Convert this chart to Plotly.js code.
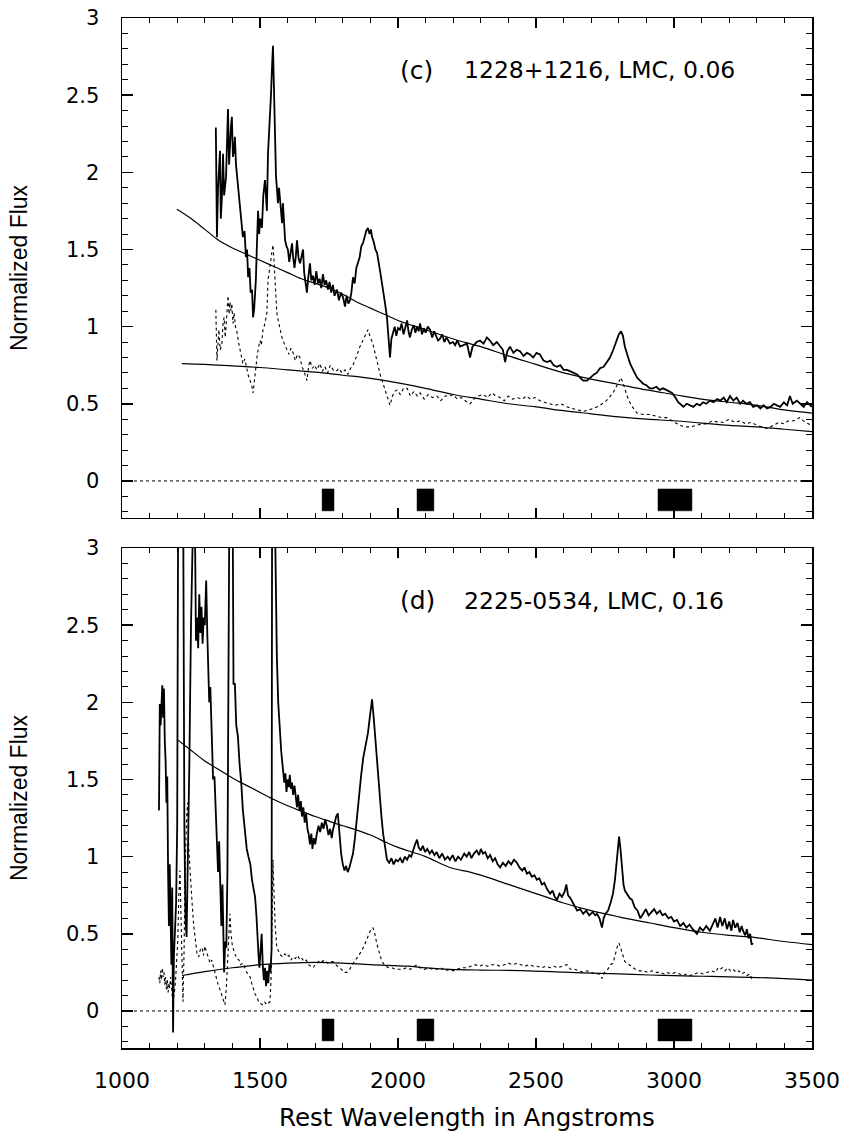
<!DOCTYPE html>
<html>
<head>
<meta charset="utf-8">
<script src="https://cdn.plot.ly/plotly-3.0.1.min.js"></script>
<style>html,body{margin:0;padding:0;background:#fff;}#chart{width:845px;height:1132px;}</style>
</head>
<body>
<div id="chart"></div>
<script>
// ---- Panel (c): 1228+1216 ----
const cLabel = "(c)";
const cName = "1228+1216, LMC, 0.06";
// observed spectrum [wavelength, flux]
const cObserved = [[1340,2.29],[1344,1.58],[1348,1.9],[1355,2.14],[1358,1.7],[1362,1.84],[1366,2.12],[1370,1.85],[1377,1.97],[1380,2.2],[1384,2.41],[1388,2.05],[1391,2.19],[1395,2.3],[1398,2.36],[1402,2.1],[1406,2.14],[1409,2.23],[1413,2.05],[1417,1.97],[1422,1.88],[1428,1.77],[1433,1.7],[1438,1.58],[1444,1.62],[1449,1.45],[1453,1.5],[1457,1.32],[1462,1.38],[1466,1.22],[1471,1.24],[1475,1.06],[1479,1.12],[1485,1.3],[1489,1.54],[1493,1.75],[1497,1.6],[1501,1.7],[1507,1.64],[1512,1.85],[1518,1.95],[1522,1.85],[1525,1.75],[1529,2.12],[1535,2.3],[1540,2.51],[1544,2.7],[1547,2.82],[1551,2.51],[1555,2.2],[1558,1.97],[1562,1.88],[1565,1.8],[1569,1.9],[1572,1.82],[1576,1.75],[1580,1.67],[1583,1.8],[1587,1.62],[1591,1.56],[1596,1.52],[1601,1.5],[1606,1.42],[1611,1.48],[1616,1.54],[1620,1.45],[1625,1.38],[1630,1.46],[1634,1.56],[1640,1.44],[1645,1.41],[1650,1.45],[1656,1.5],[1660,1.35],[1666,1.28],[1670,1.22],[1675,1.32],[1681,1.41],[1686,1.3],[1692,1.33],[1698,1.27],[1704,1.36],[1710,1.28],[1716,1.31],[1722,1.25],[1728,1.34],[1734,1.27],[1740,1.3],[1746,1.24],[1752,1.29],[1758,1.22],[1764,1.27],[1770,1.2],[1779,1.24],[1786,1.17],[1793,1.22],[1801,1.19],[1808,1.13],[1814,1.2],[1820,1.15],[1826,1.17],[1831,1.22],[1837,1.32],[1843,1.28],[1849,1.38],[1855,1.41],[1861,1.45],[1867,1.52],[1873,1.54],[1879,1.58],[1885,1.62],[1891,1.64],[1897,1.6],[1902,1.63],[1906,1.58],[1912,1.55],[1918,1.5],[1924,1.48],[1930,1.4],[1936,1.35],[1942,1.28],[1948,1.22],[1953,1.15],[1960,1.06],[1965,0.95],[1971,0.8],[1976,0.92],[1982,0.96],[1988,1.0],[1994,0.94],[2000,0.99],[2007,0.98],[2013,1.02],[2020,0.95],[2026,1.0],[2033,1.04],[2038,0.97],[2043,0.93],[2050,0.98],[2057,1.01],[2063,0.96],[2069,1.0],[2075,0.97],[2080,1.02],[2087,0.95],[2094,0.99],[2100,0.96],[2108,1.0],[2116,0.98],[2124,0.93],[2131,0.97],[2138,0.94],[2145,0.91],[2152,0.92],[2160,0.95],[2168,0.9],[2176,0.93],[2188,0.89],[2199,0.9],[2207,0.88],[2215,0.91],[2225,0.87],[2235,0.88],[2250,0.89],[2261,0.8],[2270,0.87],[2285,0.9],[2297,0.91],[2310,0.89],[2322,0.93],[2333,0.91],[2345,0.88],[2358,0.9],[2370,0.87],[2380,0.85],[2388,0.77],[2396,0.84],[2406,0.87],[2418,0.83],[2430,0.85],[2442,0.84],[2455,0.81],[2467,0.83],[2478,0.82],[2490,0.8],[2502,0.83],[2514,0.82],[2527,0.78],[2540,0.77],[2552,0.78],[2564,0.75],[2576,0.74],[2588,0.75],[2600,0.72],[2612,0.72],[2625,0.71],[2637,0.7],[2649,0.69],[2660,0.67],[2671,0.65],[2685,0.65],[2696,0.67],[2710,0.69],[2720,0.7],[2732,0.73],[2745,0.74],[2756,0.77],[2768,0.8],[2780,0.85],[2793,0.91],[2800,0.95],[2808,0.97],[2815,0.94],[2822,0.87],[2830,0.82],[2841,0.76],[2852,0.72],[2866,0.67],[2877,0.65],[2888,0.63],[2900,0.62],[2912,0.6],[2924,0.6],[2936,0.61],[2948,0.59],[2960,0.6],[2972,0.59],[2983,0.58],[2993,0.57],[3005,0.54],[3015,0.51],[3022,0.5],[3034,0.48],[3046,0.5],[3058,0.49],[3070,0.48],[3082,0.5],[3094,0.49],[3105,0.51],[3117,0.5],[3130,0.52],[3143,0.51],[3156,0.53],[3168,0.52],[3180,0.54],[3191,0.51],[3203,0.55],[3215,0.52],[3227,0.54],[3240,0.5],[3250,0.52],[3262,0.5],[3275,0.51],[3287,0.48],[3301,0.49],[3313,0.47],[3325,0.49],[3337,0.47],[3350,0.48],[3362,0.5],[3373,0.49],[3385,0.48],[3398,0.51],[3410,0.49],[3420,0.55],[3430,0.5],[3445,0.52],[3457,0.5],[3470,0.48],[3482,0.51],[3500,0.48]];
// dereddened / scaled spectrum (dotted)
const cScaled = [[1340,1.11],[1344,0.78],[1351,0.98],[1356,0.85],[1362,0.89],[1366,1.02],[1370,1.06],[1374,0.93],[1377,1.0],[1381,1.12],[1384,1.2],[1388,1.08],[1391,1.16],[1395,1.1],[1398,1.15],[1402,1.02],[1406,1.09],[1411,1.0],[1417,0.96],[1422,0.9],[1428,0.85],[1433,0.8],[1438,0.76],[1445,0.79],[1453,0.72],[1458,0.68],[1464,0.65],[1470,0.62],[1475,0.57],[1480,0.66],[1485,0.72],[1489,0.8],[1494,0.86],[1500,0.91],[1505,0.88],[1511,0.98],[1518,1.02],[1525,1.09],[1529,1.3],[1536,1.38],[1542,1.47],[1547,1.53],[1551,1.42],[1554,1.3],[1558,1.15],[1561,1.09],[1566,1.04],[1572,0.98],[1578,0.94],[1583,0.91],[1590,0.88],[1598,0.85],[1605,0.82],[1612,0.86],[1620,0.83],[1628,0.78],[1636,0.82],[1645,0.8],[1652,0.74],[1660,0.71],[1670,0.65],[1676,0.74],[1681,0.78],[1690,0.73],[1698,0.75],[1706,0.72],[1717,0.76],[1726,0.71],[1735,0.74],[1745,0.7],[1755,0.75],[1765,0.72],[1776,0.71],[1786,0.73],[1797,0.7],[1808,0.72],[1818,0.69],[1828,0.73],[1837,0.75],[1848,0.8],[1862,0.87],[1875,0.92],[1885,0.96],[1891,0.98],[1900,0.93],[1909,0.89],[1918,0.82],[1928,0.74],[1937,0.68],[1946,0.63],[1955,0.58],[1963,0.54],[1971,0.49],[1980,0.55],[1988,0.58],[1996,0.59],[2008,0.56],[2020,0.6],[2033,0.6],[2045,0.55],[2058,0.58],[2070,0.55],[2080,0.57],[2095,0.53],[2110,0.56],[2125,0.54],[2141,0.55],[2155,0.52],[2170,0.55],[2188,0.55],[2199,0.56],[2215,0.53],[2230,0.54],[2250,0.51],[2261,0.5],[2275,0.53],[2290,0.55],[2308,0.56],[2325,0.54],[2340,0.57],[2355,0.55],[2370,0.54],[2385,0.52],[2400,0.55],[2415,0.53],[2431,0.54],[2450,0.53],[2465,0.55],[2480,0.53],[2496,0.54],[2515,0.52],[2530,0.51],[2551,0.5],[2570,0.49],[2590,0.5],[2612,0.48],[2630,0.47],[2650,0.46],[2671,0.45],[2690,0.46],[2710,0.47],[2732,0.49],[2755,0.52],[2779,0.57],[2795,0.63],[2808,0.67],[2818,0.62],[2830,0.55],[2845,0.49],[2866,0.44],[2890,0.43],[2913,0.43],[2935,0.42],[2955,0.41],[2974,0.41],[3000,0.38],[3022,0.36],[3040,0.35],[3058,0.35],[3080,0.36],[3100,0.37],[3119,0.37],[3140,0.39],[3160,0.38],[3180,0.38],[3200,0.4],[3220,0.38],[3240,0.39],[3260,0.37],[3280,0.38],[3301,0.36],[3320,0.35],[3337,0.34],[3360,0.36],[3380,0.38],[3398,0.37],[3415,0.39],[3435,0.39],[3455,0.41],[3475,0.38],[3500,0.36]];
const cFitUpper = [[1199,1.76],[1250,1.7],[1300,1.63],[1350,1.56],[1400,1.51],[1450,1.47],[1500,1.43],[1550,1.39],[1600,1.35],[1650,1.31],[1700,1.28],[1750,1.25],[1800,1.21],[1850,1.16],[1900,1.12],[1950,1.08],[2000,1.04],[2100,0.98],[2200,0.92],[2300,0.87],[2400,0.81],[2500,0.755],[2600,0.7],[2700,0.66],[2800,0.625],[2900,0.59],[3000,0.56],[3100,0.53],[3200,0.51],[3300,0.49],[3400,0.46],[3500,0.44]];
const cFitLower = [[1217,0.76],[1300,0.755],[1400,0.745],[1500,0.735],[1600,0.72],[1700,0.705],[1800,0.685],[1900,0.665],[2000,0.635],[2100,0.6],[2200,0.56],[2300,0.53],[2400,0.5],[2500,0.48],[2600,0.455],[2700,0.435],[2800,0.415],[2900,0.4],[3000,0.39],[3100,0.375],[3200,0.36],[3300,0.35],[3400,0.335],[3500,0.32]];

// ---- Panel (d): 2225-0534 ----
const dLabel = "(d)";
const dName = "2225-0534, LMC, 0.16";
const dObserved = [[1134,1.3],[1137,1.99],[1140,1.85],[1143,2.05],[1146,2.11],[1149,1.9],[1152,2.09],[1155,1.75],[1158,1.62],[1161,1.35],[1164,1.52],[1167,0.9],[1170,0.55],[1173,0.95],[1176,0.62],[1179,0.3],[1182,0.8],[1185,-0.14],[1188,0.35],[1192,0.55],[1196,0.7],[1200,1.2],[1204,3.6],[1210,3.6],[1216,3.6],[1221,3.6],[1226,1.2],[1230,0.6],[1234,0.48],[1238,0.9],[1244,1.6],[1250,2.5],[1256,3.6],[1262,3.6],[1268,2.4],[1272,2.55],[1276,2.35],[1280,2.7],[1284,2.45],[1288,2.62],[1292,2.38],[1296,2.55],[1300,2.5],[1305,2.79],[1309,2.45],[1312,2.3],[1316,2.0],[1320,2.1],[1325,1.75],[1330,1.5],[1335,1.52],[1340,1.3],[1344,1.19],[1348,0.9],[1352,1.1],[1356,0.7],[1360,0.55],[1364,0.82],[1367,0.4],[1370,0.25],[1374,0.45],[1378,0.41],[1382,0.9],[1386,2.0],[1390,3.6],[1396,3.6],[1400,3.6],[1404,2.12],[1409,2.12],[1414,1.85],[1420,1.78],[1426,1.6],[1432,1.48],[1438,1.3],[1445,1.15],[1452,1.05],[1458,1.0],[1465,0.95],[1471,0.85],[1476,0.8],[1482,0.74],[1487,0.62],[1491,0.45],[1495,0.35],[1498,0.28],[1502,0.4],[1506,0.5],[1510,0.3],[1514,0.2],[1518,0.28],[1522,0.16],[1526,0.26],[1530,0.18],[1534,0.3],[1538,0.25],[1542,0.4],[1544,3.6],[1551,3.6],[1556,2.9],[1561,2.3],[1566,2.0],[1572,1.78],[1577,1.68],[1583,1.57],[1588,1.48],[1592,1.54],[1596,1.42],[1600,1.5],[1604,1.45],[1608,1.53],[1612,1.44],[1616,1.48],[1620,1.4],[1625,1.46],[1630,1.38],[1634,1.32],[1638,1.4],[1643,1.3],[1648,1.36],[1652,1.26],[1657,1.32],[1662,1.22],[1667,1.28],[1672,1.18],[1677,1.14],[1681,1.08],[1686,1.15],[1690,1.05],[1695,1.12],[1700,1.08],[1706,1.15],[1712,1.2],[1718,1.16],[1724,1.22],[1730,1.18],[1736,1.24],[1742,1.2],[1748,1.14],[1754,1.18],[1760,1.12],[1764,1.17],[1770,1.22],[1776,1.26],[1782,1.28],[1788,1.15],[1794,1.02],[1800,0.95],[1806,0.91],[1812,0.94],[1818,0.9],[1824,0.93],[1830,0.97],[1837,1.02],[1844,1.12],[1851,1.26],[1858,1.38],[1866,1.52],[1874,1.64],[1882,1.72],[1891,1.8],[1899,1.92],[1906,2.02],[1912,1.9],[1918,1.75],[1923,1.62],[1928,1.54],[1935,1.38],[1940,1.26],[1946,1.15],[1953,1.05],[1960,0.98],[1968,0.96],[1976,0.99],[1984,0.95],[1992,0.98],[2000,0.97],[2008,0.99],[2016,0.96],[2025,1.0],[2033,0.98],[2041,1.01],[2048,1.0],[2054,1.04],[2062,1.08],[2069,1.11],[2075,1.06],[2082,1.04],[2090,1.07],[2098,1.03],[2106,1.05],[2115,1.02],[2123,1.04],[2132,1.01],[2140,1.03],[2150,0.99],[2160,1.02],[2170,0.98],[2180,1.0],[2188,0.98],[2198,1.01],[2208,0.97],[2218,1.0],[2228,0.98],[2240,1.02],[2249,1.0],[2258,1.03],[2266,0.99],[2275,1.02],[2285,1.04],[2294,1.01],[2300,1.05],[2308,1.02],[2316,1.03],[2325,0.99],[2334,1.01],[2343,0.97],[2352,0.99],[2361,0.95],[2370,0.93],[2380,0.96],[2390,0.94],[2400,0.97],[2410,0.95],[2420,0.98],[2431,0.96],[2440,0.93],[2450,0.91],[2458,0.93],[2467,0.89],[2476,0.9],[2485,0.87],[2494,0.88],[2503,0.85],[2512,0.86],[2521,0.82],[2530,0.83],[2540,0.79],[2551,0.76],[2560,0.78],[2568,0.74],[2576,0.72],[2585,0.76],[2594,0.74],[2603,0.77],[2610,0.82],[2616,0.75],[2625,0.73],[2635,0.7],[2649,0.65],[2660,0.66],[2671,0.63],[2682,0.65],[2693,0.62],[2705,0.64],[2715,0.62],[2721,0.63],[2730,0.6],[2739,0.54],[2745,0.6],[2752,0.63],[2761,0.65],[2770,0.7],[2779,0.76],[2786,0.85],[2792,0.96],[2797,1.07],[2801,1.13],[2806,1.05],[2812,0.92],[2817,0.82],[2822,0.78],[2830,0.76],[2840,0.73],[2848,0.72],[2858,0.67],[2868,0.65],[2878,0.6],[2888,0.63],[2898,0.66],[2908,0.62],[2918,0.64],[2928,0.66],[2938,0.63],[2949,0.65],[2958,0.62],[2968,0.63],[2980,0.6],[2990,0.61],[3000,0.58],[3011,0.59],[3022,0.55],[3034,0.57],[3045,0.54],[3056,0.56],[3068,0.53],[3083,0.5],[3094,0.54],[3105,0.52],[3117,0.55],[3130,0.52],[3140,0.56],[3150,0.6],[3158,0.54],[3167,0.61],[3175,0.55],[3184,0.6],[3192,0.53],[3200,0.58],[3208,0.52],[3214,0.59],[3222,0.54],[3230,0.57],[3238,0.51],[3245,0.55],[3250,0.52],[3258,0.49],[3264,0.53],[3270,0.47],[3276,0.5],[3281,0.43],[3286,0.44]];
const dScaled = [[1134,0.22],[1137,0.18],[1140,0.26],[1143,0.2],[1146,0.28],[1149,0.22],[1152,0.25],[1155,0.17],[1158,0.22],[1161,0.14],[1164,0.2],[1167,0.12],[1170,0.18],[1173,0.15],[1176,0.22],[1179,0.16],[1182,0.1],[1186,0.08],[1190,0.12],[1194,0.2],[1198,0.3],[1202,0.45],[1206,0.75],[1210,0.91],[1214,0.6],[1218,0.2],[1221,0.06],[1225,0.4],[1229,0.95],[1234,1.25],[1238,1.35],[1242,1.05],[1248,0.85],[1254,0.7],[1260,0.55],[1266,0.45],[1272,0.37],[1278,0.35],[1284,0.4],[1290,0.41],[1295,0.36],[1300,0.42],[1308,0.37],[1314,0.33],[1319,0.31],[1325,0.33],[1330,0.3],[1337,0.25],[1344,0.2],[1350,0.16],[1355,0.14],[1362,0.1],[1368,0.06],[1373,0.04],[1378,0.15],[1383,0.35],[1388,0.55],[1391,0.63],[1395,0.5],[1400,0.42],[1409,0.37],[1416,0.34],[1424,0.33],[1430,0.3],[1438,0.31],[1445,0.28],[1452,0.25],[1458,0.24],[1464,0.22],[1470,0.18],[1476,0.14],[1482,0.11],[1489,0.09],[1495,0.06],[1500,0.05],[1508,0.04],[1516,0.06],[1524,0.04],[1530,0.05],[1536,0.06],[1540,0.2],[1544,0.7],[1547,0.98],[1551,0.75],[1555,0.55],[1561,0.41],[1568,0.38],[1575,0.36],[1583,0.35],[1590,0.37],[1598,0.35],[1605,0.36],[1612,0.33],[1620,0.35],[1628,0.34],[1636,0.36],[1645,0.33],[1652,0.34],[1660,0.32],[1668,0.33],[1676,0.3],[1684,0.29],[1692,0.28],[1700,0.3],[1708,0.31],[1717,0.33],[1726,0.32],[1735,0.33],[1745,0.31],[1755,0.32],[1764,0.32],[1775,0.3],[1785,0.28],[1795,0.27],[1805,0.25],[1815,0.25],[1825,0.27],[1835,0.3],[1845,0.33],[1855,0.35],[1865,0.38],[1877,0.42],[1888,0.47],[1900,0.52],[1909,0.54],[1916,0.5],[1924,0.43],[1932,0.37],[1940,0.33],[1946,0.31],[1956,0.29],[1966,0.28],[1978,0.28],[1990,0.27],[2005,0.27],[2018,0.27],[2030,0.28],[2045,0.27],[2060,0.29],[2070,0.3],[2080,0.28],[2095,0.27],[2110,0.28],[2125,0.27],[2141,0.27],[2155,0.28],[2170,0.26],[2188,0.27],[2200,0.26],[2215,0.27],[2230,0.28],[2249,0.28],[2265,0.29],[2280,0.3],[2295,0.29],[2308,0.3],[2325,0.29],[2340,0.3],[2355,0.3],[2370,0.29],[2385,0.3],[2400,0.31],[2415,0.3],[2431,0.31],[2445,0.3],[2460,0.29],[2475,0.3],[2490,0.29],[2505,0.29],[2520,0.28],[2535,0.29],[2551,0.28],[2565,0.29],[2580,0.28],[2595,0.29],[2612,0.3],[2625,0.27],[2640,0.27],[2655,0.26],[2671,0.25],[2685,0.26],[2700,0.25],[2715,0.24],[2730,0.24],[2739,0.21],[2748,0.25],[2760,0.27],[2770,0.3],[2779,0.31],[2788,0.37],[2795,0.42],[2801,0.44],[2808,0.4],[2815,0.35],[2822,0.32],[2830,0.31],[2845,0.29],[2860,0.27],[2875,0.26],[2888,0.26],[2905,0.25],[2920,0.26],[2935,0.25],[2950,0.25],[2965,0.24],[2974,0.25],[2990,0.24],[3005,0.25],[3020,0.24],[3035,0.23],[3047,0.24],[3060,0.23],[3075,0.24],[3090,0.25],[3105,0.24],[3119,0.25],[3135,0.26],[3150,0.25],[3160,0.28],[3167,0.27],[3175,0.28],[3185,0.26],[3195,0.28],[3205,0.26],[3214,0.27],[3225,0.25],[3235,0.26],[3245,0.24],[3255,0.25],[3265,0.23],[3275,0.24],[3281,0.21],[3286,0.2]];
const dFitUpper = [[1199,1.76],[1250,1.69],[1300,1.62],[1355,1.56],[1400,1.51],[1475,1.44],[1550,1.37],[1600,1.33],[1656,1.29],[1700,1.26],[1750,1.23],[1800,1.2],[1837,1.18],[1900,1.14],[1960,1.09],[2000,1.06],[2100,1.0],[2188,0.93],[2261,0.9],[2300,0.88],[2400,0.82],[2500,0.76],[2551,0.73],[2600,0.7],[2700,0.65],[2800,0.61],[2913,0.57],[3000,0.54],[3100,0.51],[3200,0.49],[3275,0.48],[3400,0.45],[3500,0.43]];
const dFitLower = [[1217,0.23],[1300,0.255],[1400,0.28],[1453,0.29],[1500,0.3],[1600,0.31],[1700,0.315],[1800,0.31],[1900,0.3],[2033,0.29],[2100,0.28],[2188,0.27],[2300,0.265],[2450,0.262],[2600,0.252],[2700,0.245],[2800,0.24],[2913,0.233],[3000,0.229],[3100,0.225],[3200,0.221],[3275,0.218],[3400,0.21],[3500,0.2]];

// black window markers (wavelength ranges) and their flux extent
const windowStart = [1725, 2069, 2942];
const windowEnd = [1768, 2130, 3065];
const windowFluxLow = -0.194;
const windowFluxHigh = -0.052;

const xRange = [1000, 3500];
const yRange = [-0.24, 3];
const xTitle = "Rest Wavelength in Angstroms";
const yTitle = "Normalized Flux";

const FONT = "DejaVu Sans, Liberation Sans, Arial, sans-serif";
const FONT_Y = "Liberation Sans, Arial, Helvetica, sans-serif";
const xs = a => a.map(p => p[0]);
const ys = a => a.map(p => p[1]);

function panelTraces(obs, scaled, fitU, fitL, xa, ya) {
  const t = [];
  t.push({x: [xRange[0], xRange[1]], y: [0, 0], xaxis: xa, yaxis: ya, mode: 'lines',
          line: {color: '#000', width: 1, dash: 'dot'}, hoverinfo: 'skip'});
  for (let i = 0; i < windowStart.length; i++) {
    t.push({x: [windowStart[i], windowEnd[i], windowEnd[i], windowStart[i], windowStart[i]],
            y: [windowFluxLow, windowFluxLow, windowFluxHigh, windowFluxHigh, windowFluxLow],
            xaxis: xa, yaxis: ya, mode: 'lines', fill: 'toself', fillcolor: '#000',
            line: {color: '#000', width: 0.5}, hoverinfo: 'skip'});
  }
  t.push({x: xs(scaled), y: ys(scaled), xaxis: xa, yaxis: ya, mode: 'lines',
          line: {color: '#000', width: 1.1, dash: 'dot'}});
  t.push({x: xs(fitL), y: ys(fitL), xaxis: xa, yaxis: ya, mode: 'lines', line: {color: '#000', width: 1.2, shape: 'spline'}});
  t.push({x: xs(fitU), y: ys(fitU), xaxis: xa, yaxis: ya, mode: 'lines', line: {color: '#000', width: 1.2, shape: 'spline'}});
  t.push({x: xs(obs), y: ys(obs), xaxis: xa, yaxis: ya, mode: 'lines', line: {color: '#000', width: 1.8}});
  return t;
}

const data = [].concat(
  panelTraces(cObserved, cScaled, cFitUpper, cFitLower, 'x2', 'y2'),
  panelTraces(dObserved, dScaled, dFitUpper, dFitLower, 'x', 'y')
);

function xAxis(extra) {
  return Object.assign({
    range: xRange, dtick: 500, tick0: 1000, ticks: 'inside', ticklen: 10, tickwidth: 1.5,
    minor: {ticks: 'inside', dtick: 100, ticklen: 5, tickwidth: 1, tickcolor: '#000'},
    showline: true, linewidth: 1.5, linecolor: '#000', mirror: 'allticks', tickcolor: '#000',
    showgrid: false, zeroline: false, tickfont: {family: FONT, size: 22, color: '#000'}
  }, extra);
}
function yAxis(extra) {
  return Object.assign({
    range: yRange, dtick: 0.5, tick0: 0, ticks: 'inside', ticklen: 11, tickwidth: 1.5,
    minor: {ticks: 'inside', dtick: 0.1, ticklen: 6, tickwidth: 1, tickcolor: '#000'},
    showline: true, linewidth: 1.5, linecolor: '#000', mirror: 'allticks', tickcolor: '#000',
    showgrid: false, zeroline: false, ticklabelstandoff: 17,
    tickfont: {family: FONT, size: 21, color: '#000'},
    title: {text: yTitle, font: {family: FONT_Y, size: 23, color: '#000'}, standoff: 32}
  }, extra);
}

const topDomainStart = 0.5146, bottomDomainEnd = 0.4854;
const layout = {
  width: 845, height: 1132,
  margin: {l: 122, r: 33, t: 18, b: 84},
  paper_bgcolor: '#fff', plot_bgcolor: '#fff',
  showlegend: false,
  font: {family: FONT, color: '#000'},
  xaxis: xAxis({domain: [0, 1], anchor: 'y', ticklabelstandoff: 12,
    title: {text: xTitle, font: {family: FONT, size: 24.5, color: '#000'}, standoff: 17}}),
  yaxis: yAxis({domain: [0, bottomDomainEnd], anchor: 'x'}),
  xaxis2: xAxis({domain: [0, 1], anchor: 'y2', matches: 'x', showticklabels: false}),
  yaxis2: yAxis({domain: [topDomainStart, 1], anchor: 'x2'}),
  annotations: [
    {xref: 'x2', yref: 'y2', x: 2000, y: 2.66, text: cLabel, showarrow: false, xanchor: 'left', yanchor: 'middle', font: {family: FONT, size: 25, color: '#000'}},
    {xref: 'x2', yref: 'y2', x: 2232, y: 2.66, text: cName, showarrow: false, xanchor: 'left', yanchor: 'middle', font: {family: FONT, size: 23.5, color: '#000'}},
    {xref: 'x', yref: 'y', x: 2000, y: 2.66, text: dLabel, showarrow: false, xanchor: 'left', yanchor: 'middle', font: {family: FONT, size: 25, color: '#000'}},
    {xref: 'x', yref: 'y', x: 2232, y: 2.66, text: dName, showarrow: false, xanchor: 'left', yanchor: 'middle', font: {family: FONT, size: 23.5, color: '#000'}}
  ]
};

Plotly.newPlot('chart', data, layout, {staticPlot: true, displayModeBar: false});
</script>
</body>
</html>
